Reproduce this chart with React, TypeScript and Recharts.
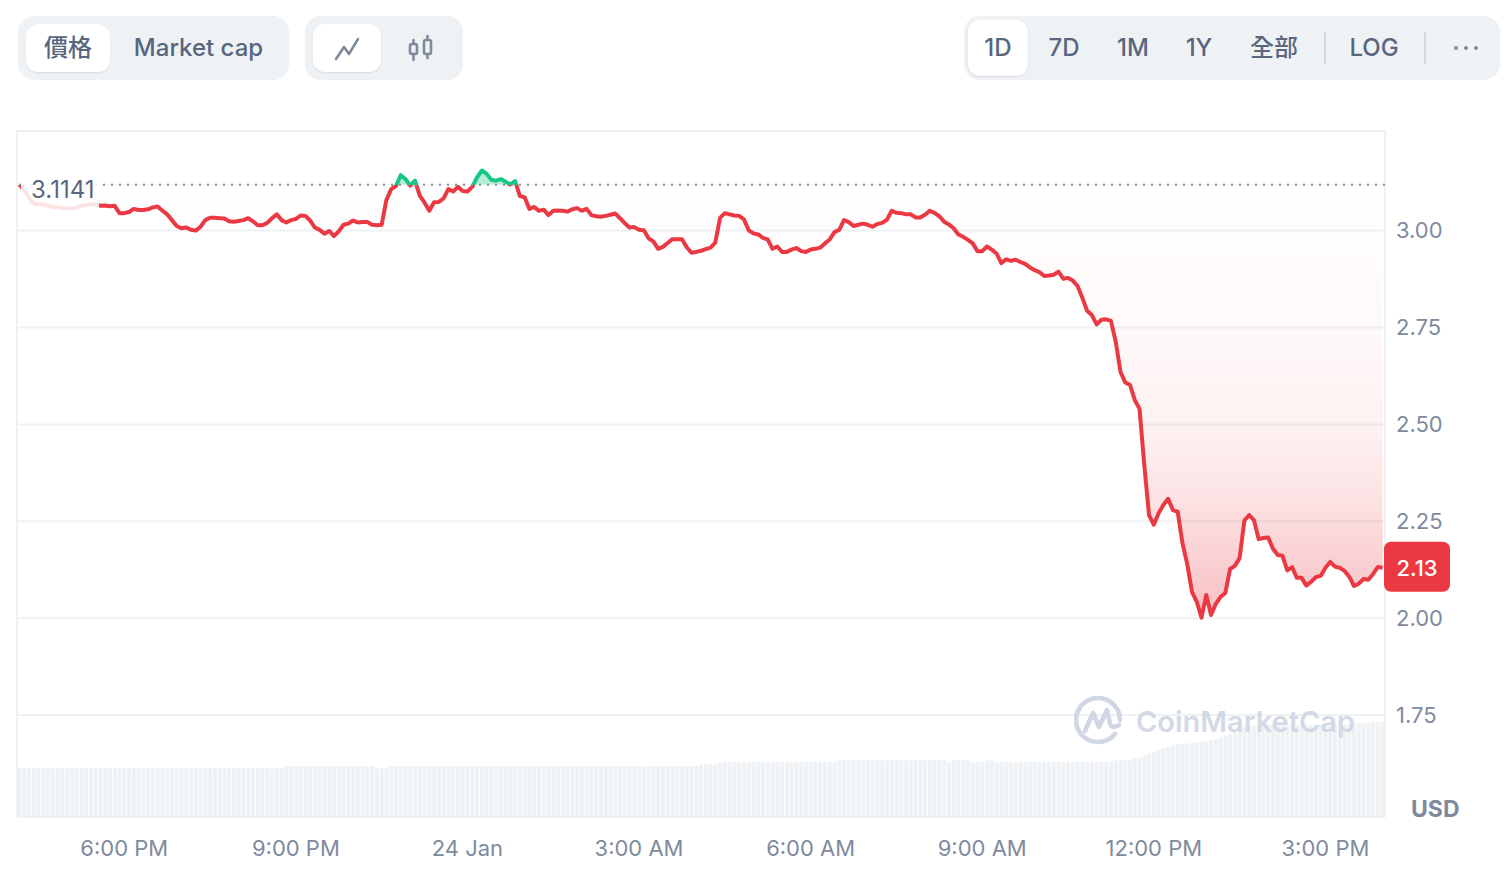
import React from "react";
import {
  Area,
  Bar,
  CartesianGrid,
  ComposedChart,
  ReferenceLine,
  XAxis,
  YAxis,
} from "recharts";

const RED = "#EA3943";
const GREEN = "#16C784";
const AXIS_TEXT = "#808A9D";
const BUTTON_TEXT = "#58667E";
const FONT = "Inter, 'Noto Sans CJK TC', sans-serif";

// 5 minute samples
const priceValues = [
  3.119, 3.105, 3.085, 3.069, 3.068, 3.068, 3.064, 3.061, 3.06, 3.058,
  3.058, 3.058, 3.06, 3.064, 3.066, 3.069, 3.067, 3.064, 3.065, 3.063,
  3.064, 3.045, 3.045, 3.048, 3.056, 3.053, 3.053, 3.055, 3.06, 3.062,
  3.052, 3.042, 3.027, 3.012, 3.006, 3.008, 3.002, 3.0, 3.01, 3.027,
  3.033, 3.033, 3.032, 3.031, 3.024, 3.023, 3.025, 3.027, 3.032, 3.024,
  3.014, 3.014, 3.02, 3.032, 3.042, 3.027, 3.021, 3.027, 3.03, 3.039,
  3.038, 3.026, 3.008, 3.002, 2.992, 2.999, 2.986, 2.998, 3.015, 3.018,
  3.026, 3.021, 3.022, 3.022, 3.015, 3.014, 3.015, 3.079, 3.107, 3.115,
  3.143, 3.133, 3.116, 3.129, 3.09, 3.072, 3.051, 3.073, 3.074, 3.083,
  3.107, 3.101, 3.113, 3.102, 3.101, 3.113, 3.137, 3.155, 3.147, 3.131,
  3.129, 3.133, 3.126, 3.119, 3.128, 3.089, 3.086, 3.056, 3.061, 3.051,
  3.054, 3.04, 3.051, 3.052, 3.051, 3.049, 3.055, 3.058, 3.051, 3.056,
  3.04, 3.037, 3.036, 3.038, 3.041, 3.044, 3.032, 3.019, 3.008, 3.009,
  3.002, 3.001, 2.98, 2.972, 2.953, 2.958, 2.968, 2.978, 2.978, 2.978,
  2.957, 2.943, 2.945, 2.948, 2.952, 2.956, 2.969, 3.033, 3.045, 3.042,
  3.039, 3.038, 3.029, 3.001, 2.993, 2.99, 2.981, 2.977, 2.953, 2.959,
  2.945, 2.945, 2.951, 2.955, 2.947, 2.945, 2.951, 2.953, 2.956, 2.967,
  2.977, 2.996, 3.002, 3.027, 3.022, 3.012, 3.015, 3.018, 3.015, 3.01,
  3.017, 3.02, 3.028, 3.051, 3.046, 3.045, 3.042, 3.042, 3.034, 3.034,
  3.041, 3.051, 3.046, 3.037, 3.023, 3.016, 3.006, 2.99, 2.984, 2.976,
  2.967, 2.947, 2.947, 2.959, 2.951, 2.941, 2.916, 2.926, 2.922, 2.925,
  2.919, 2.914, 2.905, 2.898, 2.893, 2.883, 2.884, 2.886, 2.894, 2.876,
  2.878, 2.871, 2.857, 2.827, 2.793, 2.782, 2.758, 2.77, 2.771, 2.767,
  2.714, 2.636, 2.608, 2.602, 2.563, 2.54, 2.395, 2.266, 2.241, 2.271,
  2.292, 2.308, 2.279, 2.275, 2.194, 2.14, 2.068, 2.043, 2.001, 2.06,
  2.008, 2.037, 2.055, 2.065, 2.127, 2.135, 2.155, 2.252, 2.266, 2.253,
  2.204, 2.207, 2.208, 2.179, 2.163, 2.161, 2.123, 2.132, 2.104, 2.104,
  2.084, 2.094, 2.106, 2.109, 2.13, 2.145, 2.133, 2.13, 2.122, 2.107,
  2.083, 2.089, 2.101, 2.099, 2.114, 2.132, 2.13,
];

// relative volume, the scale isn't printed on the chart
const volumeValues = [
  1, 1, 1, 1, 1, 1, 1, 1, 1, 1,
  1, 1, 1, 1, 1, 1, 1, 1, 1, 1,
  1, 1, 1, 1, 1, 1, 1, 1, 1, 1,
  1, 1, 1, 1, 1, 1, 1, 1, 1, 1,
  1, 1, 1, 1, 1, 1, 1, 1, 1, 1,
  1, 1, 1, 1, 1, 1, 1.04, 1.04, 1.04, 1.04,
  1.04, 1.04, 1.04, 1.04, 1.04, 1.04, 1.04, 1.04, 1.04, 1.04,
  1.04, 1.04, 1.04, 1.04, 1.04, 1, 1, 1, 1.04, 1.04,
  1.04, 1.04, 1.04, 1.04, 1.04, 1.04, 1.04, 1.04, 1.04, 1.04,
  1.04, 1.04, 1.04, 1.04, 1.04, 1.04, 1.04, 1.04, 1.04, 1.04,
  1.04, 1.04, 1.04, 1.04, 1.04, 1.04, 1.04, 1.04, 1.04, 1.04,
  1.04, 1.04, 1.04, 1.04, 1.04, 1.04, 1.04, 1.04, 1.04, 1.04,
  1.04, 1.04, 1.04, 1.04, 1.04, 1.04, 1.04, 1.04, 1.04, 1.04,
  1.04, 1.04, 1.04, 1.04, 1.04, 1.04, 1.04, 1.04, 1.04, 1.04,
  1.04, 1.04, 1.04, 1.08, 1.08, 1.08, 1.08, 1.12, 1.12, 1.12,
  1.12, 1.12, 1.12, 1.12, 1.12, 1.12, 1.12, 1.12, 1.12, 1.12,
  1.12, 1.12, 1.12, 1.12, 1.12, 1.12, 1.12, 1.12, 1.12, 1.12,
  1.12, 1.12, 1.16, 1.16, 1.16, 1.16, 1.16, 1.16, 1.16, 1.16,
  1.16, 1.16, 1.16, 1.16, 1.16, 1.16, 1.16, 1.16, 1.16, 1.16,
  1.16, 1.16, 1.16, 1.16, 1.16, 1.12, 1.16, 1.16, 1.16, 1.16,
  1.12, 1.12, 1.12, 1.16, 1.16, 1.12, 1.12, 1.12, 1.12, 1.12,
  1.12, 1.12, 1.12, 1.12, 1.12, 1.12, 1.12, 1.12, 1.12, 1.12,
  1.12, 1.12, 1.12, 1.12, 1.12, 1.12, 1.12, 1.12, 1.12, 1.12,
  1.16, 1.16, 1.16, 1.16, 1.2, 1.2, 1.245, 1.29, 1.33, 1.37,
  1.41, 1.43, 1.47, 1.49, 1.49, 1.5, 1.51, 1.53, 1.54, 1.55,
  1.57, 1.59, 1.61, 1.65, 1.71, 1.76, 1.8, 1.84, 1.88, 1.88,
  1.88, 1.88, 1.88, 1.88, 1.88, 1.88, 1.88, 1.88, 1.88, 1.88,
  1.88, 1.88, 1.88, 1.88, 1.88, 1.88, 1.9, 1.9, 1.9, 1.9,
  1.9, 1.92, 1.92, 1.92, 1.94, 1.94, 1.94,
];

const priceTicks = [1.75, 2, 2.25, 2.5, 2.75, 3];
const timeTickIndex = [22, 58, 94, 130, 166, 202, 238, 274];
const timeTickLabels = ["6:00 PM", "9:00 PM", "24 Jan", "3:00 AM", "6:00 AM", "9:00 AM", "12:00 PM", "3:00 PM"];
const rangeButtons = [
  { label: "1D", center: 998 },
  { label: "7D", center: 1064 },
  { label: "1M", center: 1133 },
  { label: "1Y", center: 1199 },
  { label: "全部", center: 1274 },
  { label: "LOG", center: 1374 },
];

const openLevel = 3.118;
const openLabel = "3.1141";
const lastLabel = "2.13";

const rows = priceValues.map((price, i) => ({ idx: i, price, volume: volumeValues[i] }));
const maxPrice = Math.max(...priceValues);
const minPrice = Math.min(...priceValues);
const split = (maxPrice - openLevel) / (maxPrice - minPrice);

function Panel({ left, width, top = 16, height = 64 }: any) {
  return (
    <div style={{ position: "absolute", left, top, width, height, background: "#EFF2F5", borderRadius: 16 }} />
  );
}

function Active({ left, width, top = 24, height = 48 }: any) {
  return (
    <div
      style={{
        position: "absolute",
        left,
        top,
        width,
        height,
        background: "#fff",
        borderRadius: 12,
        boxShadow: "0 1px 2px rgba(88,102,126,0.16)",
      }}
    />
  );
}

function ButtonText({ center, children, color = BUTTON_TEXT }: any) {
  return (
    <div
      style={{
        position: "absolute",
        left: center - 80,
        width: 160,
        top: 30,
        height: 36,
        lineHeight: "36px",
        textAlign: "center",
        fontFamily: FONT,
        fontSize: 24,
        fontWeight: 500,
        color,
      }}
    >
      {children}
    </div>
  );
}

function Header() {
  return (
    <>
      <Panel left={18} width={271} />
      <Active left={26} width={84} />
      <ButtonText center={68}>價格</ButtonText>
      <ButtonText center={198.5}>Market cap</ButtonText>

      <Panel left={305} width={158} />
      <Active left={313} width={68} />
      <svg style={{ position: "absolute", left: 333, top: 34 }} width={28} height={28} fill="none" stroke="#808A9D" strokeWidth={2.6} strokeLinecap="round" strokeLinejoin="round">
        <path d="M3 25 L11 13 L16 20 L25 5" />
      </svg>
      <svg style={{ position: "absolute", left: 407, top: 34 }} width={28} height={28} fill="none" stroke="#808A9D" strokeWidth={2.6} strokeLinecap="round">
        <rect x={3} y={10} width={7} height={10} rx={2} />
        <path d="M6.5 6 V10 M6.5 20 V26" />
        <rect x={17} y={6} width={7} height={14} rx={2} />
        <path d="M20.5 2 V6 M20.5 20 V24" />
      </svg>

      <Panel left={964} width={536} />
      <Active left={968} width={60} top={20} height={56} />
      {rangeButtons.map((b) => (
        <ButtonText key={b.label} center={b.center}>{b.label}</ButtonText>
      ))}
      <div style={{ position: "absolute", left: 1324, top: 32, width: 2, height: 32, background: "#CFD6E4" }} />
      <div style={{ position: "absolute", left: 1424, top: 32, width: 2, height: 32, background: "#CFD6E4" }} />
      <svg style={{ position: "absolute", left: 1452, top: 44 }} width={28} height={8} fill="#808A9D">
        <circle cx={4} cy={4} r={2} />
        <circle cx={14} cy={4} r={2} />
        <circle cx={24} cy={4} r={2} />
      </svg>
    </>
  );
}

function OpenTag({ viewBox }: any) {
  return (
    <g>
      <rect x={viewBox.x + 4} y={viewBox.y - 17} width={78} height={46} fill="#fff" fillOpacity={0.86} />
      <text x={viewBox.x + 14} y={viewBox.y + 13} fontFamily={FONT} fontSize={24} fill={BUTTON_TEXT}>
        {openLabel}
      </text>
    </g>
  );
}

function LastTag({ viewBox }: any) {
  const right = viewBox.x + viewBox.width;
  return (
    <g>
      <rect x={right - 1} y={viewBox.y - 26} width={66} height={50} rx={7} fill={RED} />
      <text x={right + 32} y={viewBox.y + 8} textAnchor="middle" fontFamily={FONT} fontSize={22} fontWeight={500} fill="#fff">
        {lastLabel}
      </text>
    </g>
  );
}

function Watermark() {
  return (
    <>
      <svg style={{ position: "absolute", left: 1074, top: 696 }} width={52} height={52} fill="none" stroke="#CFD6E4" strokeWidth={4.6} strokeLinecap="round" strokeLinejoin="round">
        <path d="M41 38 A22 22 0 1 1 46 24" fill="none" />
        <path d="M11 35 L19 17 L25 31 L33 14 L36 28 Q38 33 45 29" />
      </svg>
      <div
        style={{
          position: "absolute",
          left: 1136,
          top: 702,
          height: 40,
          lineHeight: "40px",
          fontFamily: FONT,
          fontSize: 29,
          fontWeight: 600,
          color: "#CFD6E4",
          opacity: 0.9,
          whiteSpace: "nowrap",
        }}
      >
        CoinMarketCap
      </div>
    </>
  );
}

export default function App() {
  return (
    <div style={{ position: "absolute", left: 0, top: 0, width: 1506, height: 876, overflow: "hidden", background: "#fff" }}>
      <Header />
      <div style={{ position: "absolute", boxSizing: "border-box", left: 16, top: 130, width: 1370, height: 687, borderTop: "2px solid #E8EAED", borderLeft: "2px solid #EFF1F3", borderRight: "2px solid #EFF1F3" }} />
      <ComposedChart
        width={1506}
        height={876}
        data={rows}
        margin={{ top: 131, right: 0, bottom: 0, left: 17 }}
        style={{ position: "absolute", left: 0, top: 0 }}
      >
        <defs>
          <linearGradient id="priceFill" x1="0" y1="0" x2="0" y2="1">
            <stop offset={0} stopColor={GREEN} stopOpacity={0.32} />
            <stop offset={split} stopColor={GREEN} stopOpacity={0.32} />
            <stop offset={split} stopColor={RED} stopOpacity={0.005} />
            <stop offset={0.35} stopColor={RED} stopOpacity={0.03} />
            <stop offset={0.57} stopColor={RED} stopOpacity={0.07} />
            <stop offset={0.71} stopColor={RED} stopOpacity={0.13} />
            <stop offset={0.94} stopColor={RED} stopOpacity={0.28} />
            <stop offset={1} stopColor={RED} stopOpacity={0.32} />
          </linearGradient>
          <linearGradient id="priceStroke" x1="0" y1="0" x2="0" y2="1">
            <stop offset={split} stopColor={GREEN} />
            <stop offset={split} stopColor={RED} />
          </linearGradient>
        </defs>
        <CartesianGrid yAxisId="price" vertical={false} stroke="#F0F1F3" strokeWidth={2} />
        <XAxis
          dataKey="idx"
          height={59}
          ticks={timeTickIndex}
          interval={0}
          tickFormatter={(v) => timeTickLabels[timeTickIndex.indexOf(v)]}
          axisLine={false}
          tickLine={false}
          tickMargin={17}
          tick={{ fontFamily: FONT, fontSize: 22, fill: AXIS_TEXT }}
        />
        <YAxis
          yAxisId="price"
          orientation="right"
          width={121}
          domain={[1.487, 3.257]}
          allowDataOverflow
          ticks={priceTicks}
          tickFormatter={(v) => v.toFixed(2)}
          axisLine={false}
          tickLine={false}
          tickMargin={5}
          tick={{ fontFamily: FONT, fontSize: 22, fill: AXIS_TEXT }}
        />
        <YAxis yAxisId="volume" hide domain={[0, 14]} />
        <Bar yAxisId="volume" dataKey="volume" fill="#EFF2F5" barCategoryGap="6%" radius={[1, 1, 0, 0]} isAnimationActive={false} />
        <Area
          yAxisId="price"
          type="linear"
          dataKey="price"
          baseValue={openLevel}
          stroke="url(#priceStroke)"
          strokeWidth={4}
          strokeLinejoin="round"
          fill="url(#priceFill)"
          fillOpacity={1}
          dot={false}
          activeDot={false}
          isAnimationActive={false}
        />
        <ReferenceLine
          yAxisId="price"
          y={openLevel}
          stroke="#8C8F96"
          strokeWidth={2}
          strokeDasharray="2 6"
          label={OpenTag}
        />
        <ReferenceLine yAxisId="price" y={2.13} stroke="none" label={LastTag} />
      </ComposedChart>
      <div style={{ position: "absolute", left: 1411, top: 791, fontFamily: FONT, fontSize: 23, fontWeight: 700, color: AXIS_TEXT, lineHeight: "36px" }}>
        USD
      </div>
      <Watermark />
    </div>
  );
}
